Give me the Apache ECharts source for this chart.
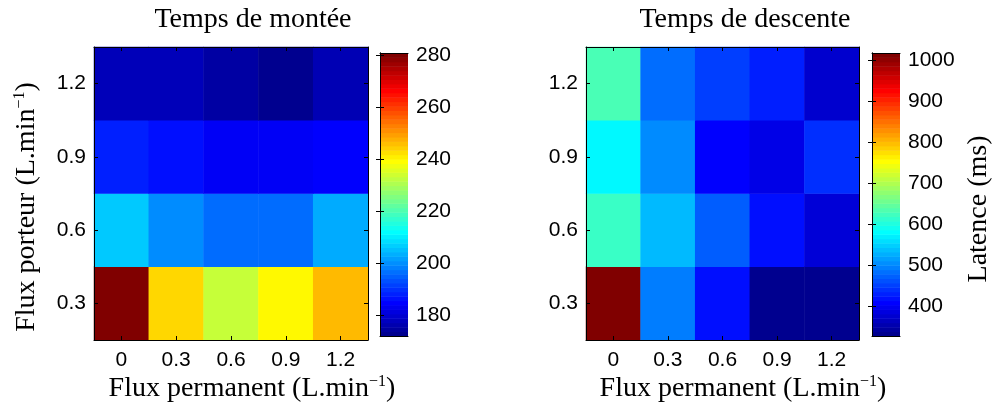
<!DOCTYPE html>
<html><head><meta charset="utf-8">
<script src="https://cdn.jsdelivr.net/npm/echarts@6/dist/echarts.min.js"></script>
<style>html,body{margin:0;padding:0;background:#fff}#c{width:999px;height:408px}</style>
</head><body><div id="c"></div>
<script>
// ---- data ----
const xCategories = ['0', '0.3', '0.6', '0.9', '1.2'];   // Flux permanent
const yCategories = ['0.3', '0.6', '0.9', '1.2'];        // Flux porteur
// rows: Flux porteur 0.3 -> 1.2 ; columns: Flux permanent 0 -> 1.2
const riseTime = [
  [281, 243.8, 233.3, 240.1, 246.9],
  [206, 199.3, 195.8, 195.8, 202.7],
  [187.5, 185.6, 183.1, 183.1, 184],
  [176.5, 176.5, 174.2, 172, 176]
];
const fallTime = [
  [1018, 490, 414, 328, 328],
  [619, 533, 468, 414, 377],
  [576, 500, 404, 388, 436],
  [630, 479, 447, 425, 371]
];
const riseTicks = [180, 200, 220, 240, 260, 280];
const fallTicks = [400, 500, 600, 700, 800, 900, 1000];
const riseRange = [172, 281];
const fallRange = [328, 1018];
const riseTitle = 'Temps de montée';
const fallTitle = 'Temps de descente';
const xName = 'Flux permanent (L.min';
const yName = 'Flux porteur (L.min';
const cbName = 'Latence (ms)';

// ---- MATLAB jet colormap ----
function jetMap(n) {
  const m = Math.ceil(n / 4);
  const u = [];
  for (let i = 1; i <= m; i++) u.push(i / m);
  for (let i = 1; i < m; i++) u.push(1);
  for (let i = m; i >= 1; i--) u.push(i / m);
  const g0 = Math.ceil(m / 2) - (n % 4 === 1 ? 1 : 0);
  const R = new Array(n).fill(0), G = new Array(n).fill(0), B = new Array(n).fill(0);
  for (let k = 0; k < u.length; k++) {
    const gi = g0 + k + 1, ri = gi + m, bi = gi - m;
    if (gi >= 1 && gi <= n) G[gi - 1] = u[k];
    if (ri >= 1 && ri <= n) R[ri - 1] = u[k];
    if (bi >= 1 && bi <= n) B[bi - 1] = u[k];
  }
  const hex = v => Math.round(v * 255).toString(16).padStart(2, '0');
  const out = [];
  for (let i = 0; i < n; i++) out.push('#' + hex(R[i]) + hex(G[i]) + hex(B[i]));
  return out;
}
const JET = jetMap(64);

function toCells(mat) {
  const d = [];
  mat.forEach((row, yi) => row.forEach((v, xi) => d.push([xi, yi, v])));
  return d;
}
function levels(range) {
  const d = [];
  const step = (range[1] - range[0]) / JET.length;
  for (let i = 0; i < JET.length; i++) d.push([0, range[0] + i * step, range[0] + (i + 1) * step, i]);
  return d;
}

const serif = '"Liberation Serif", "Times New Roman", serif';
const sans = '"Liberation Sans", Arial, Helvetica, sans-serif';
const black = '#000';
const TICK_FS = 21;
const SERIF_FS = 28;

const catX = (grid, pos, labels) => ({
  type: 'category', data: xCategories, gridIndex: grid, position: pos, z: 10,
  axisLine: { show: true, lineStyle: { color: black, width: 1 } },
  axisTick: { show: true, inside: true, alignWithLabel: true, length: 4, lineStyle: { color: black } },
  axisLabel: { show: labels, color: black, fontFamily: sans, fontSize: TICK_FS, margin: 10 },
  splitLine: { show: false }
});
const catY = (grid, pos, labels) => ({
  type: 'category', data: yCategories, gridIndex: grid, position: pos, z: 10,
  axisLine: { show: true, lineStyle: { color: black, width: 1 } },
  axisTick: { show: true, inside: true, alignWithLabel: true, length: 4, lineStyle: { color: black } },
  axisLabel: { show: labels, color: black, fontFamily: sans, fontSize: TICK_FS, margin: 8 },
  splitLine: { show: false }
});
const cbX = (grid, pos) => ({
  type: 'value', min: 0, max: 1, gridIndex: grid, position: pos, z: 10,
  axisLine: { show: true, lineStyle: { color: black, width: 1 } },
  axisTick: { show: false }, axisLabel: { show: false }, splitLine: { show: false }
});
const cbY = (grid, pos, range, ticks, labels) => ({
  type: 'value', min: range[0], max: range[1], gridIndex: grid, position: pos, z: 10,
  axisLine: { show: true, lineStyle: { color: black, width: 1 } },
  axisTick: { show: true, inside: true, length: 4, customValues: ticks, lineStyle: { color: black } },
  axisLabel: { show: labels, customValues: ticks, formatter: v => String(v), color: black, fontFamily: sans, fontSize: TICK_FS, margin: 8 },
  splitLine: { show: false }
});

const cbRender = (params, api) => {
  const lo = api.value(1), hi = api.value(2), idx = api.value(3);
  const p1 = api.coord([0, hi]);
  const p2 = api.coord([1, lo]);
  return {
    type: 'rect',
    shape: { x: p1[0], y: p1[1], width: p2[0] - p1[0], height: p2[1] - p1[1] + 0.5 },
    style: { fill: JET[idx] }
  };
};

const richName = {
  a: { fontFamily: serif, fontSize: SERIF_FS, lineHeight: 31, fill: black },
  s: { fontFamily: serif, fontSize: 16, lineHeight: 16, verticalAlign: 'top', fill: black }
};
const nameStr = base => '{a|' + base + '}{s|\u22121}{a|)}';

const option = {
  animation: false,
  backgroundColor: '#fff',
  grid: [
    { left: 94, top: 47, width: 274, height: 293 },
    { left: 380, top: 53, width: 28, height: 283 },
    { left: 586, top: 47, width: 273, height: 293 },
    { left: 872, top: 53, width: 28, height: 283 }
  ],
  xAxis: [
    catX(0, 'bottom', true), catX(0, 'top', false),
    cbX(1, 'bottom'), cbX(1, 'top'),
    catX(2, 'bottom', true), catX(2, 'top', false),
    cbX(3, 'bottom'), cbX(3, 'top')
  ],
  yAxis: [
    catY(0, 'left', true), catY(0, 'right', false),
    cbY(1, 'left', riseRange, riseTicks, false), cbY(1, 'right', riseRange, riseTicks, true),
    catY(2, 'left', true), catY(2, 'right', false),
    cbY(3, 'left', fallRange, fallTicks, false), cbY(3, 'right', fallRange, fallTicks, true)
  ],
  visualMap: [
    { type: 'continuous', show: false, seriesIndex: 0, min: riseRange[0], max: riseRange[1], inRange: { color: JET } },
    { type: 'continuous', show: false, seriesIndex: 1, min: fallRange[0], max: fallRange[1], inRange: { color: JET } }
  ],
  series: [
    { type: 'heatmap', xAxisIndex: 0, yAxisIndex: 0, data: toCells(riseTime), itemStyle: { borderWidth: 0 }, emphasis: { disabled: true } },
    { type: 'heatmap', xAxisIndex: 4, yAxisIndex: 4, data: toCells(fallTime), itemStyle: { borderWidth: 0 }, emphasis: { disabled: true } },
    { type: 'custom', xAxisIndex: 2, yAxisIndex: 2, data: levels(riseRange), renderItem: cbRender, silent: true },
    { type: 'custom', xAxisIndex: 6, yAxisIndex: 6, data: levels(fallRange), renderItem: cbRender, silent: true }
  ],
  graphic: [
    { type: 'text', x: 253, y: 20, style: { text: riseTitle, fontFamily: serif, fontSize: SERIF_FS, fill: black, align: 'center', verticalAlign: 'middle' } },
    { type: 'text', x: 745, y: 20, style: { text: fallTitle, fontFamily: serif, fontSize: SERIF_FS, fill: black, align: 'center', verticalAlign: 'middle' } },
    { type: 'text', x: 252, y: 389, style: { text: nameStr(xName), rich: richName, align: 'center', verticalAlign: 'middle' } },
    { type: 'text', x: 743, y: 389, style: { text: nameStr(xName), rich: richName, align: 'center', verticalAlign: 'middle' } },
    { type: 'text', x: 27, y: 207, rotation: Math.PI / 2, style: { text: nameStr(yName), rich: richName, align: 'center', verticalAlign: 'middle' } },
    { type: 'text', x: 979, y: 209, rotation: Math.PI / 2, style: { text: cbName, fontFamily: serif, fontSize: SERIF_FS, fill: black, align: 'center', verticalAlign: 'middle' } }
  ]
};
const chart = echarts.init(document.getElementById('c'), null, { renderer: 'canvas' });
chart.setOption(option);
</script>
</body></html>
